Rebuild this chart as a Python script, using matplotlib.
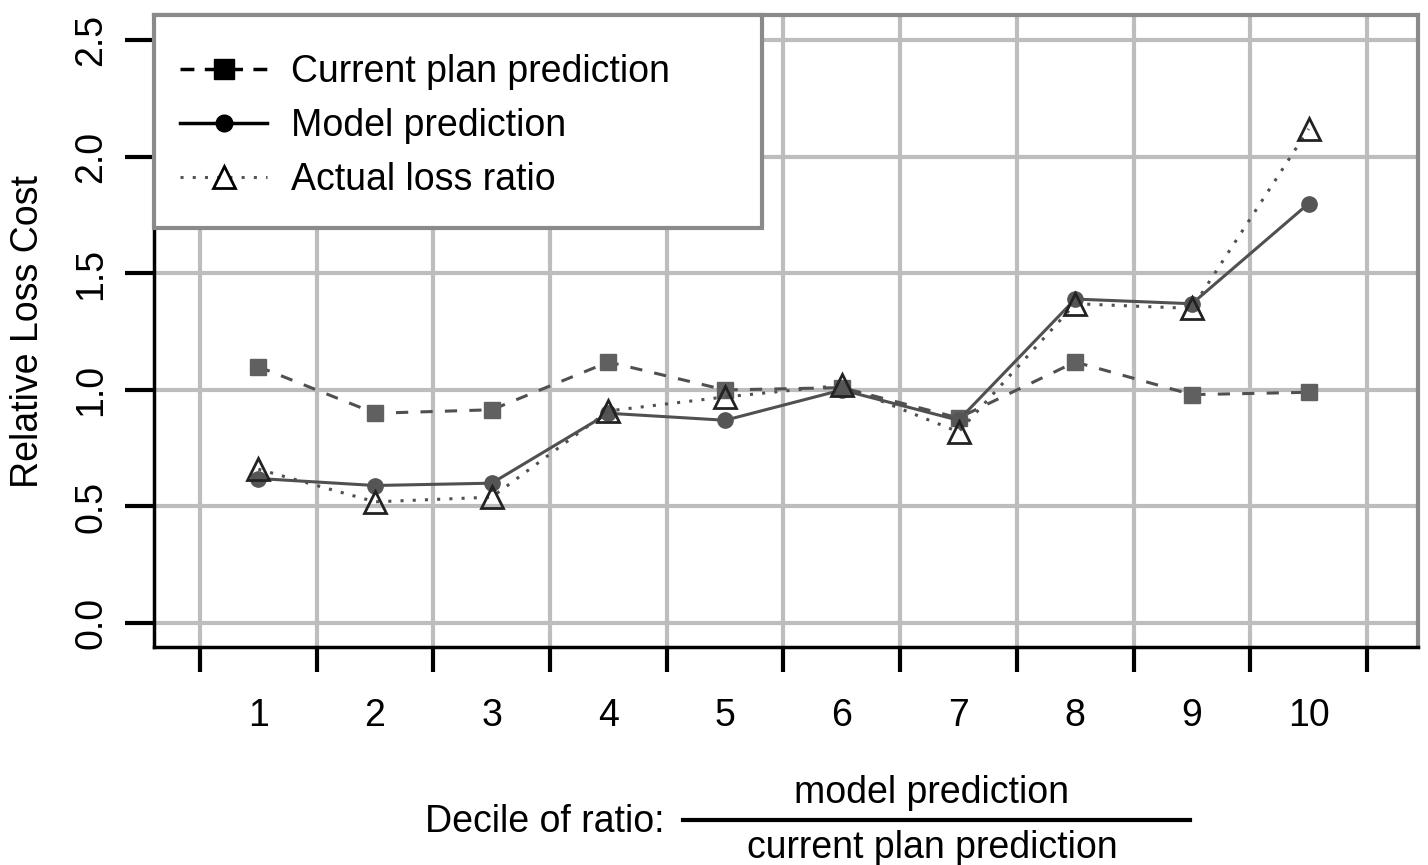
import numpy as np
import matplotlib.pyplot as plt
from matplotlib.patches import Rectangle
from matplotlib.lines import Line2D

plt.rcParams['font.family'] = ['Liberation Sans', 'DejaVu Sans']

# deciles and series
deciles = np.arange(1, 11)
current_plan = [1.10, 0.90, 0.915, 1.12, 1.00, 1.01, 0.88, 1.12, 0.98, 0.99]
model_pred = [0.62, 0.59, 0.60, 0.90, 0.87, 1.00, 0.87, 1.39, 1.37, 1.80]
actual_lr = [0.66, 0.52, 0.54, 0.91, 0.97, 1.02, 0.82, 1.37, 1.35, 2.12]

series_labels = ['Current plan prediction', 'Model prediction', 'Actual loss ratio']
yticks = [0.0, 0.5, 1.0, 1.5, 2.0, 2.5]
xbounds = np.arange(0.5, 11.0, 1.0)

fs = 27
grid_c = '#bdbdbd'
frame_c = '#8a8a8a'
ln_c = '#505050'

fig = plt.figure(figsize=(14.28, 8.65), dpi=100)
ax = fig.add_axes([154/1428, 1 - 647/865, (1418 - 154)/1428, (647 - 15)/865])

ax.set_xlim(0.106, 10.937)
ax.set_ylim(-0.103, 2.609)

# grid
for xb in xbounds:
    ax.axvline(xb, color=grid_c, lw=3, zorder=1)
for yt in yticks:
    ax.axhline(yt, color=grid_c, lw=3, zorder=1)

ax.plot(deciles, current_plan, color=ln_c, lw=2.2, dashes=(4, 4),
        marker='s', ms=12, mfc='#606060', mec='#606060', zorder=3,
        label=series_labels[0])
ax.plot(deciles, model_pred, color=ln_c, lw=2.2, ls='-',
        marker='o', ms=11, mfc='#555555', mec='#555555', zorder=3,
        label=series_labels[1])
ax.plot(deciles, actual_lr, color=ln_c, lw=2.2, dashes=(1, 3),
        marker='^', ms=16, mfc='none', mec='#222222', mew=2, zorder=4,
        label=series_labels[2])

# spines
for s in ['top', 'right']:
    ax.spines[s].set_color(frame_c)
    ax.spines[s].set_linewidth(3)
for s in ['left', 'bottom']:
    ax.spines[s].set_color('black')
    ax.spines[s].set_linewidth(2.5)

# ticks
ax.set_yticks(yticks)
ax.set_yticklabels(['%.1f' % v for v in yticks], rotation=90, va='center')
ax.tick_params(axis='y', length=21, width=3, pad=11, labelsize=fs)
ax.set_xticks(xbounds)
ax.set_xticklabels([''] * len(xbounds))
ax.tick_params(axis='x', which='major', length=18, width=3)
ax.set_xticks(deciles, minor=True)
ax.set_xticklabels([str(d) for d in deciles], minor=True)
ax.tick_params(axis='x', which='minor', length=0, pad=37, labelsize=fs)

# legend box
y0 = (647 - 228)/632
ax.add_patch(Rectangle((0, y0), 608/1264, 1 - y0, transform=ax.transAxes,
                       facecolor='white', edgecolor=frame_c, lw=3, zorder=5,
                       clip_on=False))
handles = [
    Line2D([], [], color='black', lw=2.5, dashes=(4, 3), marker='s', ms=14,
           mfc='black', mec='black'),
    Line2D([], [], color='black', lw=2.5, marker='o', ms=12, mfc='black', mec='black'),
    Line2D([], [], color='#555555', lw=2.2, dashes=(1, 3), marker='^', ms=16,
           mfc='none', mec='black', mew=2),
]
leg = ax.legend(handles, series_labels, loc='upper left',
                bbox_to_anchor=(-13/1264, 1),
                frameon=False, fontsize=fs, handlelength=2.3, handletextpad=0.65,
                borderaxespad=0.0, borderpad=1.05, labelspacing=0.47)
leg.set_zorder(6)

# axis labels
fig.text(28/1428, 1 - 331/865, 'Relative Loss Cost', rotation=90,
         ha='center', va='center', fontsize=fs)
fig.text(425/1428, 1 - 832/865, 'Decile of ratio:', ha='left', va='baseline',
         fontsize=fs)
fig.text(932/1428, 1 - 803/865, 'model prediction', ha='center', va='baseline',
         fontsize=fs)
fig.text(932/1428, 1 - 858/865, 'current plan prediction', ha='center',
         va='baseline', fontsize=fs)
fig.add_artist(Line2D([683/1428, 1190/1428], [1 - 820/865, 1 - 820/865],
                      color='black', lw=3))

fig.savefig('out.png', dpi=100)
